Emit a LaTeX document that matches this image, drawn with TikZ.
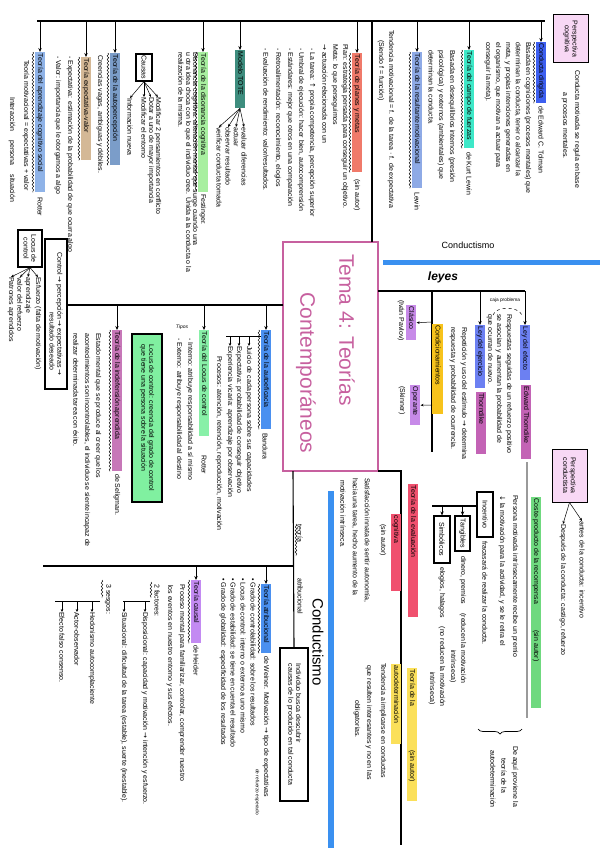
\documentclass[tikz,border=0pt]{standalone}
\usepackage{fontspec}
\setmainfont{Liberation Sans}
\newfontfamily\symf{DejaVu Sans}
\usetikzlibrary{arrows.meta,decorations.pathmorphing,decorations.pathreplacing}
\definecolor{cA1}{HTML}{8FB3E8}
\definecolor{cA2}{HTML}{D4B896}
\definecolor{cA3}{HTML}{7B9DC9}
\definecolor{cA4}{HTML}{A8EFA0}
\definecolor{cA5}{HTML}{3E8D7E}
\definecolor{cA6}{HTML}{F07A6A}
\definecolor{cA8}{HTML}{8EAAE6}
\definecolor{cA9}{HTML}{3EE8C8}
\definecolor{cA10}{HTML}{3D5FF0}
\definecolor{pinkbox}{HTML}{F8D8F5}
\definecolor{pinkc}{HTML}{C7609F}
\definecolor{barblue}{HTML}{3A90F0}
\definecolor{purpcl}{HTML}{C78AE8}
\definecolor{yelc}{HTML}{F7C31C}
\definecolor{bley}{HTML}{6C80F2}
\definecolor{magt}{HTML}{C363B5}
\definecolor{grcp}{HTML}{6FD97F}
\definecolor{redev}{HTML}{F0506E}
\definecolor{yelau}{HTML}{FBE05A}
\definecolor{grloc}{HTML}{88F0A8}
\definecolor{grbox}{HTML}{80F0A0}
\definecolor{blauto}{HTML}{4A90F0}
\definecolor{magind}{HTML}{C777B8}
\definecolor{purh}{HTML}{C38AF2}
\definecolor{grayl}{HTML}{9A9A9A}
\newcommand{\ra}{{\symf →}}
\newcommand{\hb}[2]{\makebox[#1pt][l]{#2}}
\tikzset{
  txt/.style={rotate=-90, anchor=west, inner sep=0pt, font=\fontsize{7}{7.8}\selectfont},
  sm/.style={txt, font=\fontsize{4.8}{5.4}\selectfont},
  hl/.style={txt, fill=#1, inner xsep=1.5pt, inner ysep=2pt, text height=5.2pt, text depth=1.6pt},
  bx/.style={draw=black, line width=1.2pt, rotate=-90, align=center, inner sep=1pt, font=\fontsize{7}{7.8}\selectfont},
  ar/.style={-{Stealth[length=4pt,width=3.4pt]}, line width=0.9pt},
  thin ar/.style={-{Stealth[length=3pt,width=2.6pt]}, line width=0.5pt},
  ln/.style={line width=1.1pt},
  wav/.style={decorate, decoration={snake, amplitude=0.8pt, segment length=3.6pt}, line width=0.45pt},
}
\begin{document}
\begin{tikzpicture}[x=1pt,y=-1pt]
\fill[white] (0,0) rectangle (600,848);
\useasboundingbox (0,0) rectangle (600,848);
% ---------- coordinates ----------
\coordinate (tL) at (37,21);
\coordinate (tR) at (545,21);
\coordinate (tJ) at (372,21);
\coordinate (cTop) at (372,242);
\coordinate (rJ) at (378,291);
\coordinate (rC) at (432,291);
\coordinate (rCend) at (432,452);
\coordinate (rCl) at (432,322);
\coordinate (rOp) at (432,405);
\coordinate (bR1) at (378,471);
\coordinate (bR2) at (401,471);
\coordinate (bR3) at (401,845);
\coordinate (lJ) at (283,305);
\coordinate (lE) at (67,305);
\coordinate (bJ) at (293,471);
\coordinate (bM) at (293,566);
\coordinate (bL) at (43,566);
\coordinate (iJ) at (477,506);
\coordinate (iL) at (432,506);
\coordinate (aJ) at (261,336);
\coordinate (aL) at (226,336);
\coordinate (dJ) at (150,601);
\coordinate (dL) at (123,601);
\coordinate (sJ) at (100,601);
\coordinate (sL) at (55,601);
\coordinate (bb1) at (383,262);
\coordinate (bb2) at (600,262);
\coordinate (bv1) at (331,491);
\coordinate (bv2) at (331,848);
\coordinate (gl1) at (527,462);
\coordinate (gl2) at (527,718);

% ---------- centre ----------
\node[draw=pinkc, line width=1.8pt, rotate=-90, minimum width=229pt, minimum height=95pt, inner sep=0pt, fill=white] (center) at (330.5,356.5) {};
\node[txt, font=\fontsize{21}{24}\selectfont, text=pinkc] (t1) at (347,254) {Tema 4: Teorías};
\node[txt, font=\fontsize{21}{24}\selectfont, text=pinkc] (t2) at (306,292) {Contemporáneos};

% ---------- top trunk ----------
\draw[ln] (tL) -- (tR);
\draw[ln] (cTop) -- (tJ);

% A1
\node[hl=cA1] (hA1) at (40,52) {\hb{137}{Teoría del aprendizaje cognitivo social}};
\node[txt] (tA1) at (40,197) {Rotter};
\node[txt] (c1) at (26,60) {Teoría motivacional = expectativas + valor};
\node[txt] (c2) at (12,97) {Interacción \quad persona \quad situación};
% A2
\node[hl=cA2] (hA2) at (86,57) {\hb{100}{Teoría expectativa-valor}};
\node[txt] (c3) at (70,56) {- Expectativa: estimación de la probabilidad de que ocurra algo};
\node[txt] (c4) at (58,56) {- Valor: importancia que le otorgamos a algo};
% A3
\node[hl=cA3] (hA3) at (115,53) {\hb{109}{Teoría de la autopercepción}};
\node[txt] (c5) at (100,55) {Creencias vagas, ambiguas y débiles.};
% Causas
\node[bx, minimum width=27pt, minimum height=16pt] (causas) at (144,67.5) {Causas};
\node[txt] (cs1) at (158,97) {Modificar 2 pensamientos en conflicto};
\node[txt] (cs2) at (151,97) {Dotar a uno de mayor importancia};
\node[txt] (cs3) at (144,97) {Modificar el entorno};
\node[txt] (cs4) at (130,98) {Información nueva};
\draw[thin ar] (causas.east) -- (cs1.west);
\draw[thin ar] (causas.east) -- (cs2.west);
\draw[thin ar] (causas.east) -- (cs3.west);
\draw[thin ar] (causas.east) -- (cs4.west);
\node[txt] (ds1) at (195,52) {Disonancia cognitiva: alteración mental que surge cuando una};
\node[txt] (ds2) at (188,52) {u otra idea choca con lo que el individuo cree. Unida a la conducta o la};
\node[txt] (ds3) at (181,52) {realización de la misma.};
% A4
\node[hl=cA4] (hA4) at (203,52) {\hb{137}{Teoría de la disonancia cognitiva}};
\node[txt] (tA4) at (203,194) {Festinger.};
% A5
\node[hl=cA5] (hA5) at (240,50) {\hb{55}{Modelo TOTE}};
\node[txt] (to1) at (244,127) {evaluar diferencias};
\node[txt] (to2) at (236,127) {actuar};
\node[txt] (to3) at (228,127) {observar resultado};
\node[txt] (to4) at (219,127) {verificar conducta tomada};
\draw[thin ar] (hA5.east) -- (to1.west);
\draw[thin ar] (hA5.east) -- (to2.west);
\draw[thin ar] (hA5.east) -- (to3.west);
\draw[thin ar] (hA5.east) -- (to4.west);
% A6
\node[hl=cA6] (hA6) at (357,53) {\hb{116}{Teoría de planes y metas}};
\node[txt] (tA6) at (357,179) {(sin autor)};
\node[txt] (pm1) at (345,44) {Plan: estrategia pensada para conseguir un objetivo.};
\node[txt] (pm2) at (335,44) {Meta: lo que perseguimos};
\node[txt] (pm3) at (325,44) {\ra{} actuación relacionada con un};
\node[txt] (pm4) at (312,48) {- La tarea: {\symf ↑} propia competencia, percepción superior};
\node[txt] (pm5) at (301,48) {- Umbral de ejecución: hacer bien, autocomprensión};
\node[txt] (pm6) at (290,48) {- Estándares: mejor que otros en una comparación};
\node[txt] (pm7) at (278,48) {- Retroalimentación: reconocimiento, elogios};
\node[txt] (pm8) at (266,48) {- Evaluación de rendimiento: valor/resultados.};
% resultante
\node[txt] (rm1) at (391,30) {Tendencia motivacional = f. de la tarea · f. de expectativa};
\node[txt] (rm2) at (381,40) {(Siendo f = función)};
\node[hl=cA8] (hA8) at (417,52) {\hb{133}{Teoría de la resultante motivacional}};
\node[txt] (tA8) at (417,192) {Lewin};
% A9
\node[hl=cA9] (hA9) at (469,50) {\hb{95}{Teoría del campo de fuerzas}};
\node[txt] (tA9) at (469,152) {de Kurt Lewin};
\node[txt] (cf1) at (452,50) {Basada en desequilibrios internos (presión};
\node[txt] (cf2) at (441,50) {psicológica) y externos (ambientales) que};
\node[txt] (cf3) at (431,50) {determinan la conducta.};
% A10
\node[hl=cA10] (hA10) at (541,42) {\hb{58}{Conducta dirigida}};
\node[txt] (tA10) at (541,106) {de Edward C. Tolman};
\node[txt] (cd1) at (528,42) {Basada en cogniciones (procesos mentales) que};
\node[txt] (cd2) at (518,42) {determinan la conducta, tener o alcanzar la};
\node[txt] (cd3) at (508,42) {meta, y propias intenciones generadas en};
\node[txt] (cd4) at (498,42) {el organismo, que motivan a actuar para};
\node[txt] (cd5) at (488,42) {conseguir la meta).};
% perspectiva cognitiva
\node[bx, line width=1pt, fill=pinkbox, minimum width=48pt, minimum height=35pt] (pcog) at (570.5,39) {Perspectiva\\cognitiva};
\node[txt] (pg1) at (577,70) {Conducta motivada se regula en base};
\node[txt] (pg2) at (565,92) {a procesos mentales.};

\foreach \h in {hA1,hA2,hA3,hA4,hA5,hA6,hA8,hA9,hA10}{
  \draw[ar] (\h.west |- tL) -- (\h.west);
}
\foreach \h in {hA1,hA2,hA3,hA4,hA6,hA8,hA9,hA10}{
  \draw[wav] ([xshift=-1.5pt]\h.south west) -- ([xshift=-1.5pt]\h.south east);
}

% ---------- conductismo top ----------
\node[font=\fontsize{9}{10}\selectfont] (cond1) at (468,245) {Conductismo};
\draw[line width=5pt, barblue] (bb1) -- (bb2);
\node[font=\bfseries\itshape\fontsize{12}{13}\selectfont] (leyes) at (443,277) {leyes};

% right region
\node[hl=bley] (hLE) at (525,325) {\hb{52}{Ley del efecto}};
\node[hl=magt] (hET) at (526,385) {\hb{71}{Edward Thorndike}};
\node[hl=bley] (hLJ) at (480,325) {\hb{60}{Ley del ejercicio}};
\node[hl=magt] (hTh) at (481,392) {\hb{59}{Thorndike}};
\draw[ln] (rJ) -- (hLE.west |- rJ);
\draw[ar] (hLE.west |- rJ) -- (hLE.west);
\draw[ar] (hLJ.west |- rJ) -- (hLJ.west);
\node[font=\fontsize{4.8}{5}\selectfont] (caja) at (505,300) {caja problema};
\draw[dashed, line width=0.5pt] (493,315) .. controls (496,306) and (518,306) .. (522,315);
\node[txt] (le1) at (509,314) {Respuestas seguidas de un refuerzo positivo};
\node[txt] (le2) at (499,314) {se asocian y aumentan la probabilidad de};
\node[txt] (le3) at (490,314) {que ocurran de nuevo.};
\node[txt] (lj1) at (464,327) {Repetición y uso del estímulo \ra{} determina};
\node[txt] (lj2) at (453,327) {respuesta y probabilidad de ocurrencia.};

\draw[ln, line width=1.4pt] (rC) -- (rCend);
\node[hl=yelc] (hCo) at (437.5,324) {\hb{87}{Condicionamientos}};
\node[hl=purpcl] (hCl) at (411,305) {\hb{32}{Clásico}};
\node[txt] (tCl) at (401,300) {(Iván Pavlov)};
\node[hl=purpcl] (hOp) at (415,385) {\hb{37}{Operante}};
\node[txt] (tOp) at (402,386) {(Skinner)};
\draw[thin ar] (rCl) -- (hCl.north);
\draw[thin ar] (rOp) -- (hOp.north);

% perspectiva conductista
\node[bx, line width=1pt, fill=pinkbox, minimum width=53pt, minimum height=35pt] (pcon) at (569.5,475.5) {Perspectiva\\conductista};
\node[txt] (an1) at (582,521) {antes de la conducta: incentivo};
\node[txt] (de1) at (563,524) {Después de la conducta: castigo, refuerzo};
\draw[thin ar] (pcon.east) -- (an1.west);
\draw[thin ar] (pcon.east) -- (de1.west);

\draw[grayl, line width=1.2pt] (gl1) -- (gl2);
\node[hl=grcp] (hCP) at (536,497) {\hb{208}{Coste-producto de la recompensa \hspace{22pt} (sin autor)}};
\node[txt] (cp1) at (515,495) {Persona motivada intrínsecamente recibe un premio};
\node[txt] (cp2) at (502,495) {{\symf ↓} la motivación para la actividad, y se le retira el};
\node[bx, minimum width=45pt, minimum height=16pt] (incent) at (485,514.5) {Incentivo};
\node[txt] (cp3) at (485,541) {fracasará de realizar la conducta.};
\draw[ln] (iJ) -- (iL);
\node[bx, minimum width=35pt, minimum height=15pt] (tang) at (462.5,533.5) {Tangibles};
\node[bx, minimum width=47pt, minimum height=16pt] (simb) at (442,539.5) {Simbólicos};
\draw[ar] (tang.west |- iJ) -- (tang.west);
\draw[ar] (simb.west |- iJ) -- (simb.west);
\node[txt] (tg1) at (463,556) {dinero, premios \quad (reducen la motivación};
\node[txt] (tg2) at (453,650) {intrínseca)};
\node[txt] (sb1) at (442,567) {elogios, halagos \quad (no reducen la motivación};
\node[txt] (sb2) at (432,672) {intrínseca)};
\coordinate (brA) at (522,729);
\coordinate (brB) at (478,729);
\draw[decorate, decoration={brace, amplitude=5pt}, line width=0.7pt] (brA) -- (brB);
\node[txt] (dq1) at (515,746) {De aquí proviene la};
\node[txt] (dq2) at (504,758) {teoría de la};
\node[txt] (dq3) at (493,750) {autodeterminación};

% bottom right
\draw[ln, line width=1.4pt] (bR1) -- (bR2) -- (bR3);
\node[hl=redev] (hEv) at (413,484) {\hb{130}{Teoría de la evaluación}};
\node[hl=redev] (hEc) at (396,514) {\hb{74}{cognitiva}};
\node[txt] (tEv) at (383,524) {(sin autor)};
\node[txt] (ev1) at (367,478) {Satisfacción innata de sentir autonomía,};
\node[txt] (ev2) at (355,478) {hacia una tarea, hecho aumento de la};
\node[txt] (ev3) at (343,480) {motivación intrínseca.};
\node[hl=yelau] (hAd) at (412,668) {\hb{130}{Teoría de la \hspace{40pt} (sin autor)}};
\node[hl=yelau] (hAd2) at (396,664) {\hb{77}{autodeterminación}};
\node[txt] (ad1) at (383,663) {Tendencia a implicarse en conductas};
\node[txt] (ad2) at (369,665) {que resulten interesantes y no en las};
\node[txt] (ad3) at (357,700) {obligatorias.};

\draw[line width=6pt, barblue] (bv1) -- (bv2);
\node[txt, font=\fontsize{15}{17}\selectfont] (cond2) at (318,598) {Conductismo};
\node[bx, align=left, minimum width=153pt, minimum height=28pt] (indiv) at (294,724.5) {Individuo busca descubrir\\causas de lo producido en tal conducta};

% ---------- left middle ----------
\draw[ln] (lJ) -- (lE);
\node[bx, align=left, minimum width=150pt, minimum height=22pt] (ctl) at (56,314) {Control \ra{} percepción \ra{} expectativas \ra{}\\\hspace{60pt}resultado deseado};
\node[bx, minimum width=37pt, minimum height=24pt] (locus) at (30,248.5) {Locus de\\control};
\node[txt] (lo1) at (38,277) {Esfuerzo (falta de motivación)};
\node[txt] (lo2) at (28,277) {aprendizaje};
\node[txt] (lo3) at (20,277) {valor del refuerzo};
\node[txt] (lo4) at (11,277) {Patrones aprendidos};
\draw[thin ar] (locus.east) -- (lo1.west);
\draw[thin ar] (locus.east) -- (lo2.west);
\draw[thin ar] (locus.east) -- (lo3.west);
\draw[thin ar] (locus.east) -- (lo4.west);

\node[hl=magind] (hI) at (117,330) {\hb{138}{Teoría de la indefensión aprendida}};
\node[txt] (tI) at (117,474) {de Seligman.};
\node[txt] (in1) at (98,333) {Estado mental que se produce al creer que los};
\node[txt] (in2) at (87,333) {acontecimientos son incontrolables, el individuo se siente incapaz de};
\node[txt] (in3) at (76,333) {realizar determinada tarea con éxito.};

\node[hl=grloc] (hL) at (204,330) {\hb{103}{Teoría del Locus de control}};
\node[txt] (tL2) at (204,455) {Rotter};
\node[font=\itshape\fontsize{5}{6}\selectfont] (tipos) at (182,327) {Tipos};
\node[txt] (lc1) at (190,338) {- Interno: atribuye responsabilidad a sí mismo};
\node[txt] (lc2) at (179,338) {- Externo: atribuye responsabilidad al destino};
\node[bx, fill=grbox, align=left, minimum width=168pt, minimum height=30pt] (gbox) at (147,418) {Locus de control: creencia del grado de control\\que tiene una persona sobre la situación};

\node[hl=blauto] (hAu) at (266,330) {\hb{96}{Teoría de la autoeficacia}};
\node[txt] (tAu) at (265,433) {Bandura};
\draw[ln, line width=0.8pt] (aJ) -- (aL);
\node[txt] (ae1) at (249,346) {Juicio de cada persona sobre sus capacidades};
\node[txt] (ae2) at (239,346) {Expectativa: probabilidad de conseguir objetivo};
\node[txt] (ae3) at (230,346) {Experiencia vicaria: aprendizaje por observación};
\node[txt] (ae4) at (219,356) {Procesos: atención, retención, reproducción, motivación};
\draw[thin ar] (ae1.west |- aJ) -- (ae1.west);
\draw[thin ar] (ae2.west |- aJ) -- (ae2.west);
\draw[thin ar] (ae3.west |- aJ) -- (ae3.west);

\foreach \h in {hI,hL,hAu}{
  \draw[ar] (\h.west |- lJ) -- (\h.west);
}

% ---------- bottom left ----------
\draw[ln] (bJ) -- (indiv.west);
\draw[ln] (bM) -- (bL);
\node[txt] (teo) at (300,524) {teoría};
\draw[wav] (296,524) -- (296,556);
\node[txt] (atr) at (300,578) {atribucional};

\node[hl=blauto] (hW) at (266,584) {\hb{66}{Teoría atribucional}};
\node[txt] (tW) at (266,656) {de Weiner. Motivación \ra{} tipo de expectativas};
\node[sm] (tW2) at (257,769) {de refuerzo esperado};
\node[txt] (w1) at (253,578) {• Grado de controlabilidad: sobre los resultados};
\node[txt] (w2) at (243,578) {• Locus de control: interno o externo a uno mismo};
\node[txt] (w3) at (233,578) {• Grado de estabilidad: se tiene en cuenta el resultado};
\node[txt] (w4) at (223,578) {• Grado de globalidad: especificidad de los resultados};

\node[hl=purh] (hH) at (196,580) {\hb{60}{Teoría causal}};
\node[txt] (tH) at (196,645) {de Heider};
\node[txt] (hd1) at (182,584) {Proceso mental para familiarizar, controlar, comprender nuestro};
\node[txt] (hd2) at (170,585) {los eventos en nuestro entorno y sus efectos.};
\node[txt] (fac) at (157,584) {2 factores:};
\draw[wav] (151,582) -- (151,598);
\draw[ln, line width=0.8pt] (dJ) -- (dL);
\node[txt] (dis) at (145,612) {Disposicional: capacidad y motivación \ra{} intención y esfuerzo.};
\node[txt] (sit) at (124,612) {Situacional: dificultad de la tarea (estable), suerte (inestable).};
\draw[thin ar] (dis.west |- dJ) -- (dis.west);
\draw[thin ar] (sit.west |- dJ) -- (sit.west);
\node[txt] (ses) at (108,584) {3 sesgos:};
\draw[wav] (102,580) -- (102,598);
\draw[ln, line width=0.8pt] (sJ) -- (sL);
\node[txt] (sg1) at (92,612) {Hedonismo autocomplaciente};
\node[txt] (sg2) at (77,612) {Actor-observador};
\node[txt] (sg3) at (62,612) {Efecto falso consenso.};
\draw[thin ar] (sg1.west |- sJ) -- (sg1.west);
\draw[thin ar] (sg2.west |- sJ) -- (sg2.west);
\draw[thin ar] (sg3.west |- sJ) -- (sg3.west);

\foreach \h in {hW,hH}{
  \draw[ar] (\h.west |- bM) -- (\h.west);
}
\foreach \h in {hI,hAu,hW,hH}{
  \draw[wav] ([xshift=-1.5pt]\h.south west) -- ([xshift=-1.5pt]\h.south east);
}
\end{tikzpicture}
\end{document}
